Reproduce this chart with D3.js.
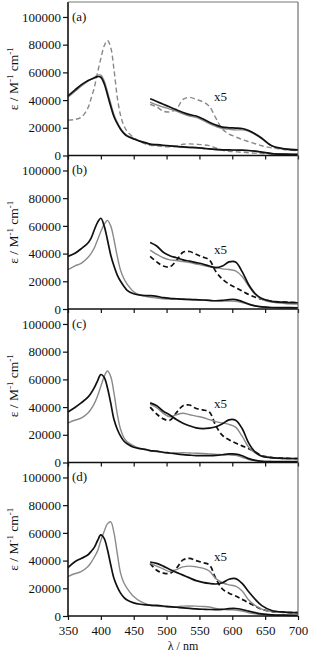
<!DOCTYPE html>
<html>
<head>
<meta charset="utf-8">
<script src="https://cdn.jsdelivr.net/npm/d3@7"></script>
<style>
  html, body { margin: 0; padding: 0; background: #fff; }
  svg { display: block; font-family: "Liberation Serif", "Times New Roman", serif; }
</style>
</head>
<body>
<svg id="chart" width="309" height="654"></svg>
<script>
// wavelength grids (nm): Soret region and visible (x5) region
const WL_UV = [350, 360, 370, 380, 385, 390, 395, 400, 405, 410, 415, 420, 425, 430, 435, 440, 450, 460, 470];
const WL_VIS = [475, 485, 495, 505, 515, 525, 535, 545, 555, 565, 575, 585, 595, 605, 615, 625, 635, 645, 660, 680, 700];
const X_TICKS = [350, 400, 450, 500, 550, 600, 650, 700];
const Y_TICKS = [0, 20000, 40000, 60000, 80000, 100000];
const PANEL_LABELS = ["(a)", "(b)", "(c)", "(d)"];
const VIS_FACTOR = 5;

// (a) eps values; *Vis5 arrays are the x5 traces as read
const aBlackUV = [43000, 47000, 51000, 54000, 55000, 56000, 57000, 56500, 52000, 44000, 35500, 28000, 23000, 19000, 16000, 14000, 12000, 10200, 8900];
const aGrayUV = [42000, 46000, 50000, 53500, 55000, 56500, 58000, 58000, 54000, 46000, 37500, 29500, 24000, 19500, 16500, 14500, 12200, 10400, 9000];
const aDashUV = [25500, 26000, 27500, 34000, 41000, 49000, 60000, 70000, 79000, 83000, 78000, 62000, 42000, 29000, 21500, 17500, 13000, 10000, 8000];
const aBlackVis5 = [41000, 39000, 37000, 35000, 33000, 31000, 29500, 28500, 26500, 24000, 22000, 20500, 20000, 19800, 19500, 18000, 15500, 12500, 7000, 4800, 4000];
const aGrayVis5 = [38500, 36500, 35000, 33500, 32000, 30000, 28500, 27500, 25500, 23000, 21000, 19500, 19000, 18500, 18500, 17500, 15000, 12000, 7000, 4500, 3800];
const aDashVis5 = [37000, 35000, 32000, 31500, 33500, 40500, 42000, 40500, 38800, 35500, 27000, 19000, 15500, 13500, 11500, 10000, 8500, 7000, 5500, 4200, 3500];

// (b)
const bBlackUV = [38000, 40000, 43500, 47500, 51000, 57000, 62500, 65500, 60000, 50000, 39000, 31000, 24500, 20000, 16500, 13500, 11000, 10000, 9700];
const bGrayUV = [28500, 31000, 33000, 37000, 40000, 44000, 50000, 56000, 61000, 64000, 60000, 50000, 38000, 28000, 22000, 18000, 12500, 10000, 9000];
const bBlackVis5 = [48000, 45500, 41000, 38500, 37000, 35500, 34500, 33500, 32500, 31000, 29800, 31000, 34000, 34000, 27000, 17500, 11000, 7500, 5500, 4800, 4500];
const bGrayVis5 = [42500, 39500, 37000, 35500, 35000, 34300, 33500, 32500, 31500, 30500, 30000, 29000, 28500, 27500, 23500, 16500, 10500, 7000, 5000, 4000, 3600];
const bDashVis5 = [38000, 34000, 31000, 30500, 35000, 41000, 41500, 39500, 37500, 35500, 27000, 21500, 18000, 15500, 13000, 10500, 8500, 7000, 5500, 5000, 4500];

// (c)
const cBlackUV = [36500, 39500, 43000, 47000, 50000, 54000, 59000, 63500, 61500, 54000, 43000, 31000, 24000, 19000, 15500, 13500, 11000, 10000, 9200];
const cGrayUV = [28500, 30500, 32000, 35500, 38500, 42500, 48000, 55000, 62000, 66000, 62000, 50000, 35000, 24000, 18000, 15000, 12000, 10000, 9000];
const cBlackVis5 = [43000, 41000, 37000, 34300, 31000, 28300, 26500, 25000, 24500, 24800, 25800, 28000, 30800, 30500, 24500, 14000, 7500, 4500, 3500, 3000, 2900];
const cGrayVis5 = [42000, 39500, 35500, 33000, 34500, 35500, 34500, 33500, 32500, 31000, 29500, 28500, 27500, 25500, 19000, 11000, 7000, 4500, 3300, 2800, 2700];
const cDashVis5 = [40000, 35000, 31500, 30500, 36000, 41000, 41500, 39000, 38000, 36500, 26500, 19500, 16500, 14000, 12000, 10000, 7500, 5000, 3500, 3000, 2800];

// (d)
const dBlackUV = [35000, 39000, 41500, 44000, 46500, 49500, 54500, 58500, 56000, 48000, 37000, 27000, 21000, 16500, 13500, 11500, 9500, 8500, 8000];
const dGrayUV = [28500, 30500, 32000, 35500, 38500, 42500, 47000, 54500, 61000, 66500, 68000, 60000, 45000, 31000, 24000, 20000, 14000, 10500, 8500];
const dBlackVis5 = [39000, 38000, 36000, 33500, 31500, 29500, 27500, 25500, 24300, 23500, 23100, 24000, 26500, 27000, 23500, 17500, 12000, 7500, 4000, 2800, 2400];
const dGrayVis5 = [38000, 36000, 34000, 32000, 33500, 35500, 36000, 35500, 34500, 32500, 27000, 24000, 22500, 21500, 18000, 11500, 7500, 5000, 3200, 2600, 2300];
const dDashVis5 = [38000, 33000, 31000, 30800, 34500, 40500, 41600, 40000, 38500, 37000, 27000, 19500, 16500, 14500, 12000, 9500, 7000, 4800, 3200, 2600, 2400];

const GRAY = "#8a8a8a";
const BLACK = "#111";

// dash first, gray next, black on top
const PANELS = [
  [
    { uv: aDashUV, vis5: aDashVis5, color: GRAY, dash: true },
    { uv: aGrayUV, vis5: aGrayVis5, color: GRAY },
    { uv: aBlackUV, vis5: aBlackVis5, color: BLACK }
  ],
  [
    { uv: null, vis5: bDashVis5, color: BLACK, dash: true },
    { uv: bGrayUV, vis5: bGrayVis5, color: GRAY },
    { uv: bBlackUV, vis5: bBlackVis5, color: BLACK }
  ],
  [
    { uv: null, vis5: cDashVis5, color: BLACK, dash: true },
    { uv: cGrayUV, vis5: cGrayVis5, color: GRAY },
    { uv: cBlackUV, vis5: cBlackVis5, color: BLACK }
  ],
  [
    { uv: null, vis5: dDashVis5, color: BLACK, dash: true },
    { uv: dGrayUV, vis5: dGrayVis5, color: GRAY },
    { uv: dBlackUV, vis5: dBlackVis5, color: BLACK }
  ]
];

const LEFT = 68, RIGHT = 298, TOP = 2, PANEL_H = 153.5;
const Y_MAX = 110800;
const FONT = 13;

const svg = d3.select("#chart");
const x = d3.scaleLinear().domain([350, 700]).range([LEFT, RIGHT]);
const wlAll = WL_UV.concat(WL_VIS);

PANELS.forEach((series, i) => {
  const top = TOP + i * PANEL_H;
  const bottom = top + PANEL_H;
  const y = d3.scaleLinear().domain([0, Y_MAX]).range([bottom, top]);
  const g = svg.append("g");

  const line = d3.line()
    .x(d => x(d[0]))
    .y(d => y(d[1]))
    .curve(d3.curveCatmullRom.alpha(0.5));

  series.forEach(s => {
    const w = s.color === BLACK ? 1.7 : 1.4;
    const paths = [];
    // full-range spectrum at true scale
    if (s.uv) {
      const vals = s.uv.concat(s.vis5.map(v => v / VIS_FACTOR));
      paths.push(wlAll.map((wl, k) => [wl, vals[k]]));
    }
    // visible region magnified x5
    paths.push(WL_VIS.map((wl, k) => [wl, s.vis5[k]]));
    paths.forEach(pts => {
      g.append("path")
        .attr("d", line(pts))
        .attr("fill", "none")
        .attr("stroke", s.color)
        .attr("stroke-width", w)
        .attr("stroke-linejoin", "round")
        .attr("stroke-dasharray", s.dash ? "5,3" : null);
    });
  });

  // y axis
  const yAxis = g.append("g")
    .attr("transform", `translate(${LEFT},0)`)
    .call(d3.axisLeft(y).tickValues(Y_TICKS).tickFormat(d3.format("d")).tickSize(5).tickPadding(2));
  yAxis.select(".domain").remove();
  yAxis.selectAll("text").attr("font-size", FONT).attr("font-family", "Liberation Serif").attr("fill", "#111");
  yAxis.selectAll("line").attr("stroke", "#111").attr("stroke-width", 1.2);

  // x axis
  const xAxis = g.append("g")
    .attr("transform", `translate(0,${bottom})`)
    .call(d3.axisBottom(x).tickValues(X_TICKS).tickSize(4).tickPadding(6));
  xAxis.select(".domain").remove();
  xAxis.selectAll("line").attr("stroke", "#111").attr("stroke-width", 1.2);
  if (i < PANELS.length - 1) {
    xAxis.selectAll("text").remove();
  } else {
    xAxis.selectAll("text").attr("font-size", FONT).attr("font-family", "Liberation Serif").attr("fill", "#111");
  }

  g.append("line")
    .attr("x1", LEFT).attr("x2", RIGHT)
    .attr("y1", bottom).attr("y2", bottom)
    .attr("stroke", "#111").attr("stroke-width", 1.6);

  // panel label
  g.append("text")
    .attr("x", LEFT + 4)
    .attr("y", y(100000) + 4)
    .attr("font-size", FONT)
    .attr("fill", "#111")
    .text(PANEL_LABELS[i]);

  // x5 marker
  g.append("text")
    .attr("x", x(572))
    .attr("y", y(39500))
    .attr("font-size", FONT)
    .attr("fill", "#111")
    .text("x5");

  // y label
  const yl = g.append("text")
    .attr("transform", `translate(18,${(top + bottom) / 2}) rotate(-90)`)
    .attr("text-anchor", "middle")
    .attr("font-size", 13.5)
    .attr("fill", "#111");
  yl.append("tspan").text("\u03b5 / M");
  yl.append("tspan").attr("font-size", 9).attr("dy", -5).text("-1");
  yl.append("tspan").attr("dy", 5).text(" cm");
  yl.append("tspan").attr("font-size", 9).attr("dy", -5).text("-1");
});

// frame
const plotBottom = TOP + PANELS.length * PANEL_H;
svg.append("line")
  .attr("x1", LEFT).attr("x2", LEFT).attr("y1", TOP).attr("y2", plotBottom)
  .attr("stroke", "#111").attr("stroke-width", 1.6);
svg.append("line")
  .attr("x1", RIGHT).attr("x2", RIGHT).attr("y1", TOP).attr("y2", plotBottom)
  .attr("stroke", "#555").attr("stroke-width", 1);
svg.append("line")
  .attr("x1", LEFT).attr("x2", RIGHT).attr("y1", TOP).attr("y2", TOP)
  .attr("stroke", "#777").attr("stroke-width", 1);

// x label
svg.append("text")
  .attr("x", (LEFT + RIGHT) / 2)
  .attr("y", 650)
  .attr("text-anchor", "middle")
  .attr("font-size", 12)
  .attr("fill", "#111")
  .text("\u03bb / nm");
</script>
</body>
</html>
